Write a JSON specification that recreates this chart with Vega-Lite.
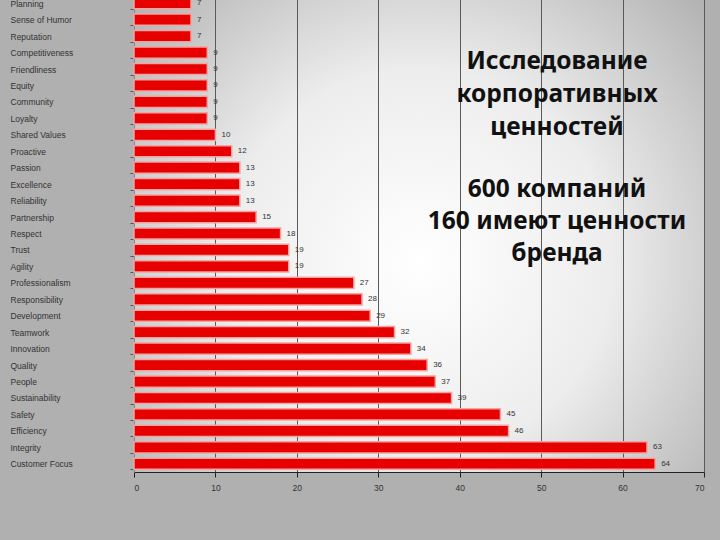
{
  "$schema": "https://vega.github.io/schema/vega-lite/v6.json",
  "width": 570,
  "height": 477,
  "autosize": {"type": "none"},
  "padding": {"left": 134, "top": -5, "right": 16, "bottom": 68},
  "background": "#b0b0b0",
  "config": {
    "view": {
      "stroke": null,
      "fill": {
        "gradient": "radial",
        "x1": 0.5, "y1": 0.55, "r1": 0,
        "x2": 0.5, "y2": 0.55, "r2": 0.75,
        "stops": [
          {"offset": 0, "color": "#ffffff"},
          {"offset": 0.45, "color": "#ededed"},
          {"offset": 1, "color": "#a6a6a6"}
        ]
      }
    },
    "axis": {"labelFont": "Liberation Sans", "labelColor": "#333333"}
  },
  "title": {
    "text": ["Исследование", "корпоративных", "ценностей"],
    "subtitle": ["600 компаний", "160 имеют ценности", "бренда"],
    "orient": "top",
    "anchor": "middle",
    "frame": "group",
    "dx": 138,
    "dy": 279,
    "baseline": "top",
    "font": "Noto Sans",
    "fontSize": 24.5,
    "fontWeight": "bold",
    "color": "#111111",
    "lineHeight": 33,
    "subtitleFont": "Noto Sans",
    "subtitleFontSize": 24.5,
    "subtitleFontWeight": "bold",
    "subtitleColor": "#111111",
    "subtitleLineHeight": 32,
    "subtitlePadding": 37
  },
  "data": {
    "values": [
      {"value": "Planning", "count": 7},
      {"value": "Sense of Humor", "count": 7},
      {"value": "Reputation", "count": 7},
      {"value": "Competitiveness", "count": 9},
      {"value": "Friendliness", "count": 9},
      {"value": "Equity", "count": 9},
      {"value": "Community", "count": 9},
      {"value": "Loyalty", "count": 9},
      {"value": "Shared Values", "count": 10},
      {"value": "Proactive", "count": 12},
      {"value": "Passion", "count": 13},
      {"value": "Excellence", "count": 13},
      {"value": "Reliability", "count": 13},
      {"value": "Partnership", "count": 15},
      {"value": "Respect", "count": 18},
      {"value": "Trust", "count": 19},
      {"value": "Agility", "count": 19},
      {"value": "Professionalism", "count": 27},
      {"value": "Responsibility", "count": 28},
      {"value": "Development", "count": 29},
      {"value": "Teamwork", "count": 32},
      {"value": "Innovation", "count": 34},
      {"value": "Quality", "count": 36},
      {"value": "People", "count": 37},
      {"value": "Sustainability", "count": 39},
      {"value": "Safety", "count": 45},
      {"value": "Efficiency", "count": 46},
      {"value": "Integrity", "count": 63},
      {"value": "Customer Focus", "count": 64}
    ]
  },
  "encoding": {
    "y": {
      "field": "value",
      "type": "nominal",
      "sort": null,
      "scale": {"paddingInner": 0.32, "paddingOuter": 0.16},
      "axis": {
        "title": null,
        "labelAlign": "left",
        "labelPadding": 120,
        "labelFontSize": 8.5,
        "tickBand": "extent",
        "tickSize": 4,
        "tickColor": "#555555",
        "domainColor": "#888888",
        "grid": false
      }
    },
    "x": {
      "field": "count",
      "type": "quantitative",
      "scale": {"domain": [0, 70], "nice": false},
      "axis": {
        "title": null,
        "values": [0, 10, 20, 30, 40, 50, 60, 70],
        "grid": true,
        "gridColor": "#5a5a5a",
        "gridWidth": 1,
        "tickSize": 5,
        "tickColor": "#222222",
        "domainColor": "#222222",
        "labelFontSize": 8.5,
        "labelPadding": 6
      }
    }
  },
  "layer": [
    {
      "mark": {"type": "bar", "color": "#e60000", "stroke": "#f4a3a3", "strokeWidth": 1.5}
    },
    {
      "mark": {"type": "text", "align": "left", "dx": 6, "fontSize": 8, "font": "Liberation Sans", "color": "#333333"},
      "encoding": {"text": {"field": "count", "type": "quantitative"}}
    }
  ]
}
